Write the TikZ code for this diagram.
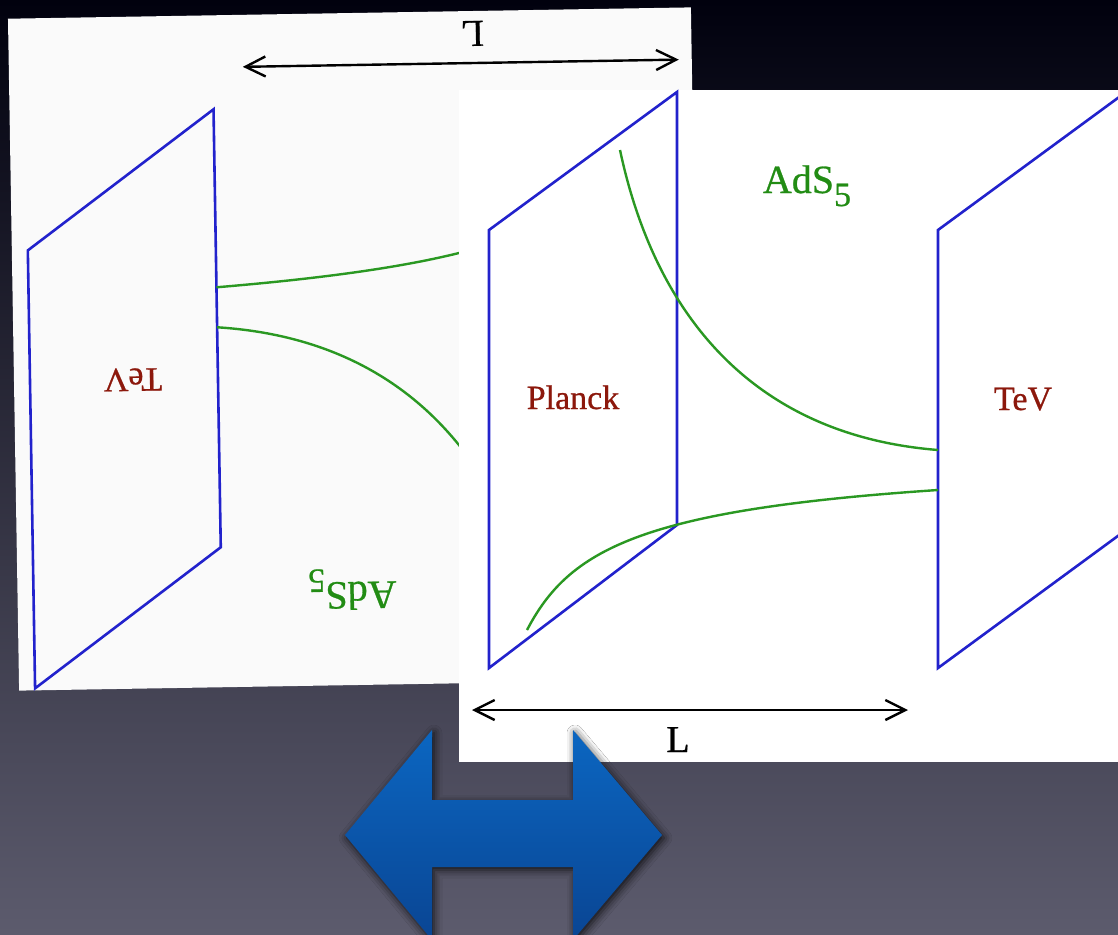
\documentclass[tikz,border=0pt]{standalone}
\usepackage{fontspec}
\setmainfont{Liberation Serif}
\newfontfamily\labelfont[FakeBold=0.7]{Liberation Serif}
\usetikzlibrary{arrows.meta,shadows.blur}

\definecolor{braneblue}{RGB}{34,34,204}
\definecolor{bulkgreen}{RGB}{42,152,34}
\definecolor{adsgreen}{RGB}{34,140,20}
\definecolor{labelred}{RGB}{140,24,12}
\definecolor{skytop}{RGB}{1,1,14}
\definecolor{skybottom}{RGB}{92,91,109}
\definecolor{arrowtop}{RGB}{11,102,193}
\definecolor{arrowbottom}{RGB}{10,69,147}

\tikzset{
  brane/.style={draw=braneblue, line width=2.6pt, line join=miter},
  warp/.style={draw=bulkgreen, line width=2.4pt},
  brlabel/.style={text=labelred, font=\labelfont\fontsize{34}{38}\selectfont, inner sep=0pt, anchor=base},
  bulklabel/.style={text=adsgreen, font=\labelfont\fontsize{40}{44}\selectfont, inner sep=0pt, anchor=base},
  dimline/.style={draw=black, line width=2.4pt,
    {Straight Barb[length=20pt,width=20pt]}-{Straight Barb[length=20pt,width=20pt]}},
  lenlabel/.style={font=\labelfont\fontsize{38}{40}\selectfont, inner sep=0pt, anchor=base},
}

% One sheet of the two-brane sketch: #1 name prefix, #2 paper colour
\newcommand{\branepanel}[2]{%
  \fill[#2] (0,0) rectangle (683,672);
  \draw[brane] (30,140) -- (218,2) -- (218,435) -- (30,578) -- cycle;
  \draw[brane] (479,140) -- (667,2) -- (667,440) -- (479,578) -- cycle;
  \draw[warp] (161,60) .. controls (195,220) and (290,345) .. (479,360);
  \draw[warp] (68,540) .. controls (110,460) and (180,420) .. (479,400);
  \node[brlabel] (#1planck) at (114,319) {Planck};
  \node[brlabel] (#1tev) at (564,320) {TeV};
  \node[bulklabel] (#1bulk) at (348,103) {AdS\raisebox{-13pt}{\fontsize{34}{36}\selectfont 5}};
  \coordinate (#1lenA) at (13,620);
  \coordinate (#1lenB) at (449,620);
  \draw[dimline] (#1lenA) -- (#1lenB);
  \node[lenlabel] (#1len) at (219,662) {L};
}

\begin{document}
\begin{tikzpicture}[x=1pt, y=-1pt]
  \useasboundingbox (0,0) rectangle (1118,934);
  \clip (0,0) rectangle (1118,934);
  \shade[top color=skytop, bottom color=skybottom] (0,0) rectangle (1118,934);

  % flipped copy behind
  \begin{scope}[shift={(355,349)}, rotate=180.95, shift={(-341.5,-336)}, transform shape]
    \branepanel{back}{white!98!black}
  \end{scope}

  % upright copy in front
  \begin{scope}[shift={(459,90)}]
    \branepanel{front}{white}
  \end{scope}

  % two-headed block arrow
  \shade[top color=arrowtop, bottom color=arrowbottom,
         blur shadow={shadow xshift=2pt, shadow yshift=-3pt, shadow blur radius=8pt, shadow opacity=80}]
    (345,835) -- (432,730) -- (432,800) -- (573,800) -- (573,730) -- (662,835)
    -- (573,940) -- (573,867) -- (432,867) -- (432,940) -- cycle;
\end{tikzpicture}
\end{document}
